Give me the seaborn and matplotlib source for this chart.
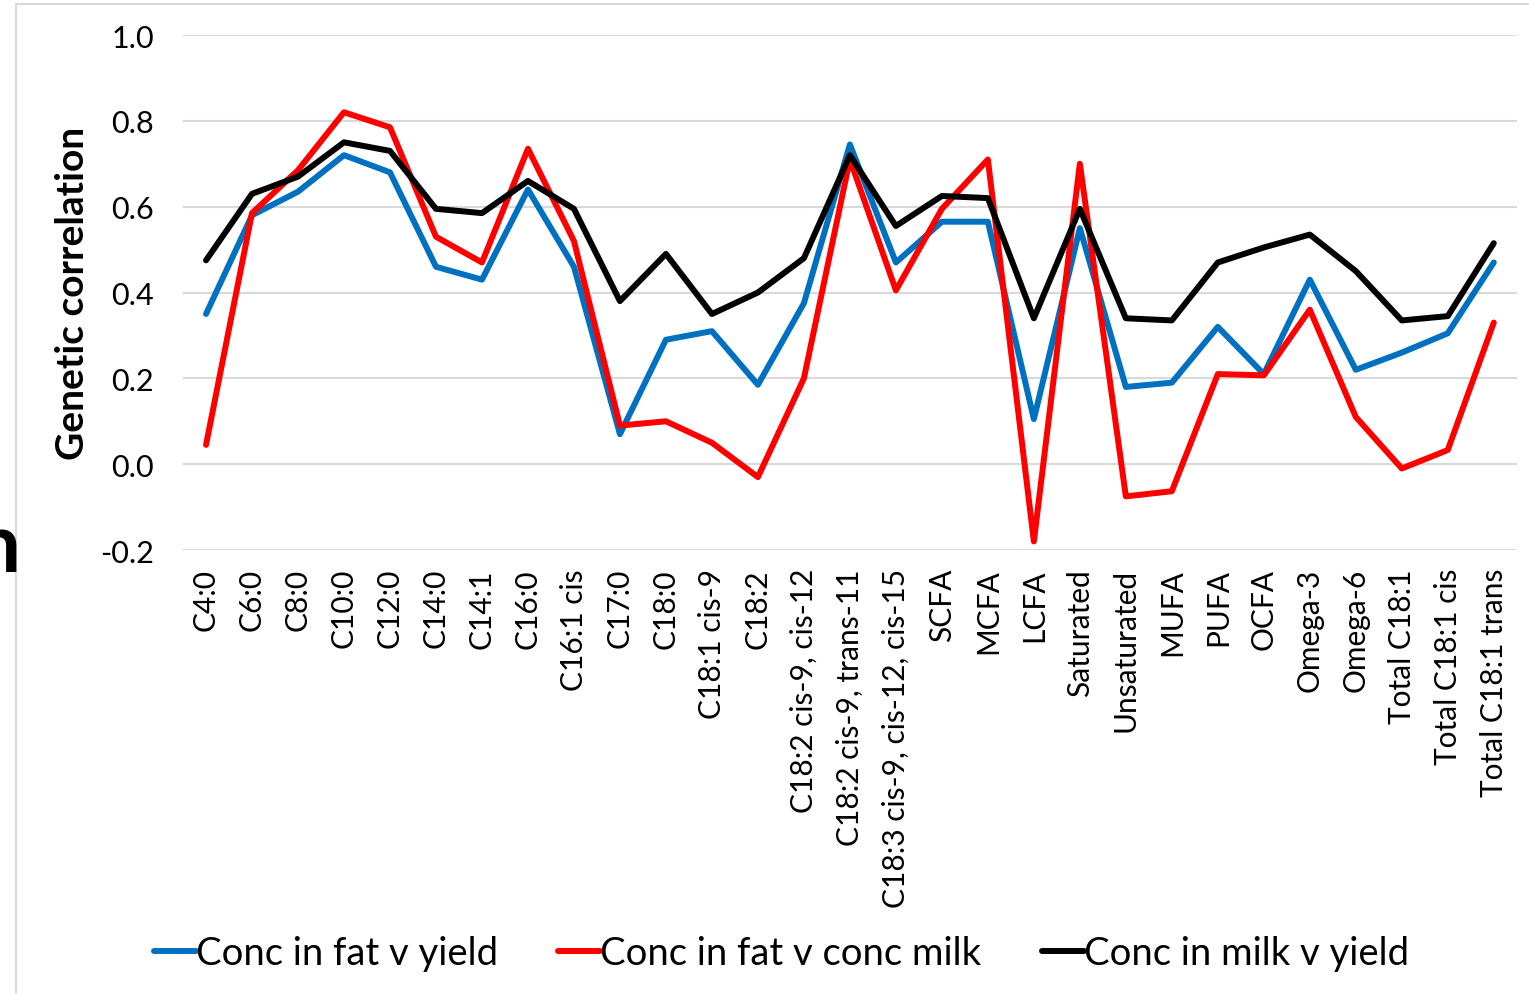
import pandas as pd
import numpy as np
import matplotlib
matplotlib.use("Agg")
import matplotlib.pyplot as plt
from matplotlib.lines import Line2D
import seaborn as sns

# fatty acid traits (x axis)
traits = ["C4:0", "C6:0", "C8:0", "C10:0", "C12:0", "C14:0", "C14:1", "C16:0",
          "C16:1 cis", "C17:0", "C18:0", "C18:1 cis-9", "C18:2",
          "C18:2 cis-9, cis-12", "C18:2 cis-9, trans-11",
          "C18:3 cis-9, cis-12, cis-15", "SCFA", "MCFA", "LCFA", "Saturated",
          "Unsaturated", "MUFA", "PUFA", "OCFA", "Omega-3", "Omega-6",
          "Total C18:1", "Total C18:1 cis", "Total C18:1 trans"]

fat_v_yield = [0.35, 0.58, 0.635, 0.72, 0.68, 0.46, 0.43, 0.64, 0.46, 0.07,
               0.29, 0.31, 0.185, 0.375, 0.745, 0.47, 0.565, 0.565, 0.105,
               0.55, 0.18, 0.19, 0.32, 0.21, 0.43, 0.22, 0.26, 0.305, 0.47]

fat_v_milk = [0.045, 0.585, 0.685, 0.82, 0.785, 0.53, 0.47, 0.735, 0.52, 0.09,
              0.10, 0.05, -0.03, 0.20, 0.71, 0.405, 0.595, 0.71, -0.18,
              0.70, -0.075, -0.063, 0.21, 0.207, 0.36, 0.11, -0.01, 0.033, 0.33]

milk_v_yield = [0.475, 0.63, 0.67, 0.75, 0.73, 0.595, 0.585, 0.66, 0.595, 0.38,
                0.49, 0.35, 0.40, 0.48, 0.72, 0.555, 0.625, 0.62, 0.34,
                0.595, 0.34, 0.335, 0.47, 0.505, 0.535, 0.45, 0.335, 0.345, 0.515]

series_names = ["Conc in fat v yield", "Conc in fat v conc milk", "Conc in milk v yield"]
colors = ["#0070C0", "#FF0000", "#000000"]

df = pd.DataFrame({
    "pos": list(range(len(traits))) * 3,
    "value": fat_v_yield + fat_v_milk + milk_v_yield,
    "series": [s for s in series_names for _ in traits],
})

sns.set_style("white")
plt.rcParams["font.family"] = ["Lato", "DejaVu Sans"]
plt.rcParams["text.color"] = "black"

fig = plt.figure(figsize=(15.29, 9.95), dpi=100)
ax = fig.add_axes([0.1197, 0.4462, 0.8723, 0.5176])

sns.lineplot(data=df, x="pos", y="value", hue="series", palette=colors,
             hue_order=series_names, linewidth=4.3, sort=False, legend=False, ax=ax)

ax.set_xlim(-0.5, len(traits) - 0.5)
ax.set_ylim(-0.2, 1.0)
ax.set_yticks(np.arange(-0.2, 1.01, 0.2))
ax.set_yticklabels([f"{v:.1f}" for v in np.arange(-0.2, 1.01, 0.2)], fontsize=22)
ax.set_xticks(range(len(traits)))
ax.set_xticklabels(traits, rotation=90, fontsize=21.5)
ax.tick_params(axis="y", length=0, pad=21, labelcolor="black")
ax.tick_params(axis="x", length=0, pad=13, labelcolor="black")
ax.yaxis.grid(True, color="#D9D9D9", linewidth=1.5)
ax.set_axisbelow(True)
for sp in ax.spines.values():
    sp.set_visible(False)
ax.set_xlabel("")
ax.set_ylabel("Genetic correlation", fontsize=28, fontweight="bold", labelpad=7, color="black")

handles = [Line2D([0], [0], color=c, linewidth=4.3) for c in colors]
fig.legend(handles, series_names, loc="center", bbox_to_anchor=(0.511, 0.041),
           ncol=3, frameon=False, fontsize=27.5, handlelength=1.1,
           handletextpad=0.0, columnspacing=1.58)

# chart frame and cut-off text on the left edge
fig.add_artist(Line2D([16 / 1529, 16 / 1529], [0, 1 - 5 / 995], color="#D9D9D9", linewidth=1.5))
fig.add_artist(Line2D([16 / 1529, 1], [1 - 5 / 995, 1 - 5 / 995], color="#D9D9D9", linewidth=1.5))
fig.text(-0.002, 1 - 548 / 995, "n", fontsize=60, fontweight="bold", ha="center", va="center")

fig.savefig("out.png", dpi=100)
